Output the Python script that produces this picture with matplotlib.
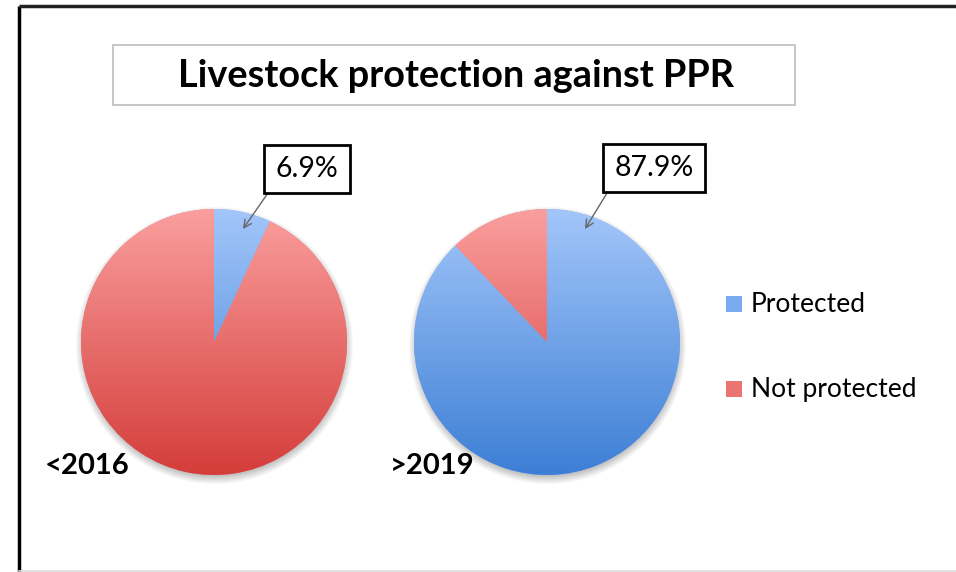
import numpy as np
import matplotlib.pyplot as plt
from matplotlib.patches import Rectangle
from matplotlib.colors import to_rgb

# Share of livestock protected against PPR, before and after the campaign
periods = ["<2016", ">2019"]
categories = ["Protected", "Not protected"]
protected_pct = [6.9, 87.9]
not_protected_pct = [100 - p for p in protected_pct]

W, H = 956, 572
plt.rcParams["font.family"] = ["Lato", "DejaVu Sans"]

fig = plt.figure(figsize=(W / 100, H / 100), dpi=100)
ax = fig.add_axes([0, 0, 1, 1])

# two-tone vertical gradients (light on top, darker at the bottom)
grad = {
    "Protected": ("#a3c6fa", "#3d7fd5"),
    "Not protected": ("#fa9f9e", "#d43d3a"),
}
flat = {"Protected": "#7aaaf0", "Not protected": "#ea7472"}

centers = [(214, 342), (547, 342)]
R = 133


def gradient_image(c_top, c_bot, n=256):
    t = np.linspace(0, 1, n)[:, None]
    a, b = np.array(to_rgb(c_top)), np.array(to_rgb(c_bot))
    img = a + (b - a) * t[..., None]
    return np.repeat(img, 2, axis=1)


for (cx, cy), prot, notp in zip(centers, protected_pct, not_protected_pct):
    # soft drop shadow under the pie
    yy, xx = np.mgrid[cy - R - 20:cy + R + 20, cx - R - 20:cx + R + 20]
    d = np.hypot(xx - cx, yy - (cy + 3))
    alpha = 0.45 * np.clip((R + 6 - d) / 9, 0, 1)
    shadow = np.zeros(d.shape + (4,))
    shadow[..., :3] = 0.45
    shadow[..., 3] = alpha
    ax.imshow(shadow, extent=(cx - R - 20, cx + R + 20, cy + R + 20, cy - R - 20),
              origin="upper", zorder=1, interpolation="bilinear")

    wedges, _ = ax.pie([prot, notp], colors=[flat[c] for c in categories],
                       startangle=-90, counterclock=True, center=(cx, cy),
                       radius=R, wedgeprops=dict(linewidth=0))
    for w, cat in zip(wedges, categories):
        w.set_zorder(2)
        im = ax.imshow(gradient_image(*grad[cat]),
                       extent=(cx - R, cx + R, cy + R, cy - R),
                       origin="upper", aspect="auto", zorder=3,
                       interpolation="bilinear")
        im.set_clip_path(w)

# percentage callouts for the protected share
callouts = [((307, 169), (243, 229)), ((654, 168), (585, 229))]
for pct, (txt_xy, tip) in zip(protected_pct, callouts):
    ax.annotate(f"{pct}%", xy=tip, xytext=txt_xy, fontsize=20.5,
                ha="center", va="center", zorder=6,
                bbox=dict(boxstyle="square,pad=0.4", fc="white",
                          ec="black", lw=2),
                arrowprops=dict(arrowstyle="->", color="#666666", lw=1,
                                shrinkA=0, shrinkB=0, mutation_scale=14,
                                relpos=(0.0, 0.0)))

# period labels
ax.text(45, 466, periods[0], fontsize=21, fontweight="bold", va="center", zorder=6)
ax.text(390, 466, periods[1], fontsize=21, fontweight="bold", va="center", zorder=6)

# title box
ax.add_patch(Rectangle((113, 45), 682, 60, fc="white", ec="#bcbcbc", lw=1.2, zorder=4))
ax.text(456, 76, "Livestock protection against PPR", fontsize=27.3,
        fontweight="bold", ha="center", va="center", zorder=5)

# legend
for cat, y in zip(categories, [304, 389]):
    ax.add_patch(Rectangle((726, y - 8), 16, 16, fc=flat[cat], ec="none", zorder=5))
    ax.text(751, y, cat, fontsize=19, va="center", zorder=5)

# frame lines around the slide
ax.plot([19, 19], [6, H], color="black", lw=2.5, zorder=7, solid_capstyle="butt")
ax.plot([19, W], [6, 6], color="#222222", lw=2.5, zorder=7, solid_capstyle="butt")
ax.plot([19, W], [570.5, 570.5], color="#dddddd", lw=1.2, zorder=7)

ax.set_xlim(0, W)
ax.set_ylim(H, 0)
ax.set_aspect("auto")
ax.axis("off")

fig.savefig("out.png", dpi=100, facecolor="white")
